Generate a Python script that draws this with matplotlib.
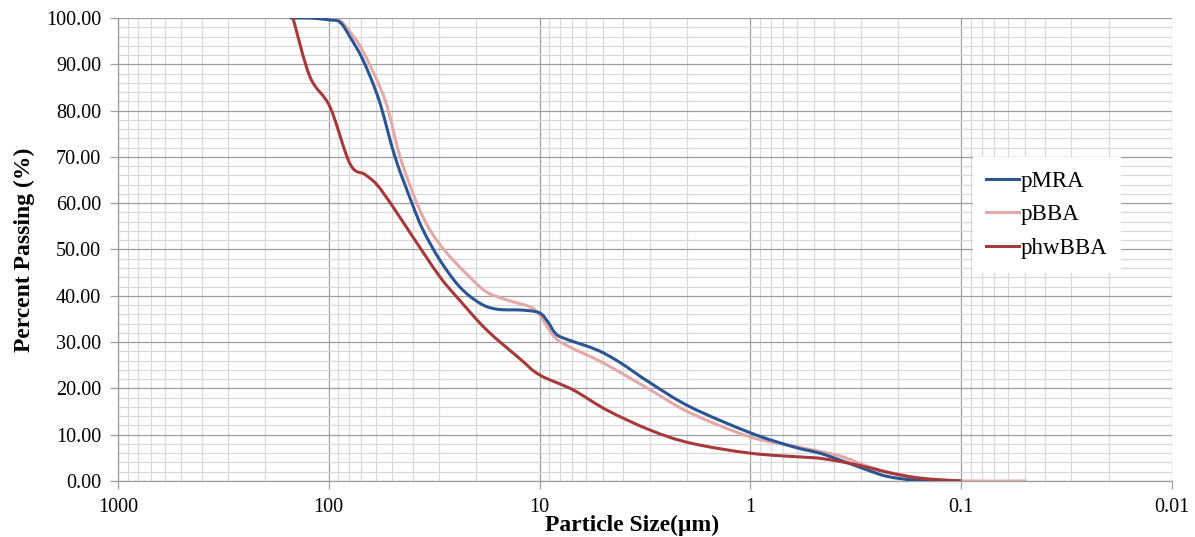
import numpy as np
import matplotlib
matplotlib.use("Agg")
import matplotlib.pyplot as plt
from matplotlib.path import Path
from matplotlib.patches import PathPatch
from matplotlib.lines import Line2D
from matplotlib.ticker import FixedLocator, LogLocator, MultipleLocator, FormatStrFormatter, NullFormatter

plt.rcParams['font.family'] = ['Liberation Serif', 'DejaVu Serif']

# particle size (um) / percent passing
pmra_x = [152.8, 122.8, 99.8, 88.5, 79.3, 68.8, 57.8, 48.5, 40.3, 35.7, 29.7, 23.9, 19.2,
          15.9, 12.0, 10.0, 9.12, 8.45, 7.74, 5.34, 4.16, 2.99, 1.93, 1.0, 0.628, 0.468,
          0.364, 0.280, 0.225, 0.169, 0.126, 0.1]
pmra_y = [100, 100, 99.6, 99.1, 95.9, 90.9, 82.3, 70.0, 60.0, 54.2, 47.7, 41.9, 38.4,
          37.1, 36.9, 36.3, 34.3, 32.0, 30.9, 28.3, 25.6, 21.2, 16.0, 10.4, 7.4, 6.0,
          4.3, 2.4, 1.0, 0.2, 0.02, 0.0]

pbba_x = [152.8, 122.8, 99.8, 88.5, 79.3, 68.8, 54.1, 45.9, 38.2, 33.1, 27.5, 21.4, 17.8,
          14.3, 11.1, 10.0, 8.93, 8.18, 7.02, 5.34, 4.16, 2.99, 1.93, 1.0, 0.601, 0.376,
          0.280, 0.195, 0.136, 0.1, 0.049]
pbba_y = [100, 100, 99.8, 99.4, 97.0, 92.8, 82.3, 70.0, 60.0, 54.2, 49.2, 44.0, 40.8,
          39.1, 37.6, 35.9, 32.4, 30.4, 28.7, 26.2, 23.5, 19.7, 14.7, 9.5, 7.4, 5.4,
          3.2, 1.3, 0.4, 0.0, 0.0]

phw_x = [147.8, 122.8, 98.7, 79.3, 67.3, 59.1, 50.1, 39.9, 29.7, 23.9, 17.8, 12.4, 10.0,
         6.95, 4.79, 2.99, 1.93, 1.0, 0.539, 0.468, 0.364, 0.280, 0.225, 0.157, 0.1]
phw_y = [100, 87.3, 80.8, 68.5, 66.2, 64.0, 59.5, 52.7, 44.1, 39.0, 32.6, 26.4, 22.9,
         19.7, 15.3, 11.0, 8.2, 6.0, 5.1, 4.9, 4.1, 3.0, 1.9, 0.6, 0.0]

series = [
    ('pMRA', pmra_x, pmra_y, '#2B5592', 4),
    ('pBBA', pbba_x, pbba_y, '#E3A9A8', 3),
    ('phwBBA', phw_x, phw_y, '#A63A3A', 5),
]


def smooth_path(xs, ys):
    # excel-like smoothed line: bezier through the points, control points
    # worked out in log-x space so they land right on the log axis
    lx = np.log10(np.asarray(xs, float))
    y = np.asarray(ys, float)
    n = len(lx)
    verts = [(xs[0], ys[0])]
    codes = [Path.MOVETO]
    for i in range(n - 1):
        i0 = max(i - 1, 0)
        i3 = min(i + 2, n - 1)
        c1 = (lx[i] + (lx[i + 1] - lx[i0]) / 6, y[i] + (y[i + 1] - y[i0]) / 6)
        c2 = (lx[i + 1] - (lx[i3] - lx[i]) / 6, y[i + 1] - (y[i3] - y[i]) / 6)
        verts += [(10 ** c1[0], c1[1]), (10 ** c2[0], c2[1]), (xs[i + 1], ys[i + 1])]
        codes += [Path.CURVE4] * 3
    return Path(verts, codes)


fig = plt.figure(figsize=(11.95, 5.37), dpi=100)
ax = fig.add_axes([0.0987, 0.1043, 0.8821, 0.8622])

ax.set_xscale('log')
ax.set_xlim(1000, 0.01)
ax.set_ylim(0, 100)

handles = []
for name, xs, ys, col, z in series:
    ax.add_patch(PathPatch(smooth_path(xs, ys), facecolor='none', edgecolor=col, lw=2.2,
                           zorder=z, joinstyle='round', capstyle='butt'))
    handles.append(Line2D([], [], color=col, lw=2.2, label=name))

ax.xaxis.set_major_locator(FixedLocator([1000, 100, 10, 1, 0.1, 0.01]))
ax.set_xticklabels(['1000', '100', '10', '1', '0.1', '0.01'])
ax.xaxis.set_minor_locator(LogLocator(base=10, subs=np.arange(2, 10)))
ax.xaxis.set_minor_formatter(NullFormatter())
ax.yaxis.set_major_locator(MultipleLocator(10))
ax.yaxis.set_minor_locator(MultipleLocator(2))
ax.yaxis.set_major_formatter(FormatStrFormatter('%.2f'))

ax.grid(which='major', color='#9E9E9E', lw=0.9, zorder=1)
ax.grid(which='minor', color='#D8D8D8', lw=0.9, zorder=0)
ax.set_axisbelow(True)

ax.tick_params(which='major', direction='out', length=6, width=0.9, color='#9E9E9E',
               labelsize=14.5, pad=6, top=False, right=False)
ax.tick_params(axis='x', pad=6)
ax.tick_params(which='minor', length=0)
for s in ['top', 'right']:
    ax.spines[s].set_visible(False)
for s in ['left', 'bottom']:
    ax.spines[s].set_color('#9E9E9E')
    ax.spines[s].set_linewidth(0.9)

ax.set_xlabel('Particle Size(\u03bcm)', fontsize=17, fontweight='bold', labelpad=-4)
ax.xaxis.set_label_coords(0.4877, -0.072)
ax.set_ylabel('Percent Passing (%)', fontsize=17, fontweight='bold', labelpad=8)

leg = ax.legend(handles=handles, loc='center left', bbox_to_anchor=(0.8, 0.575), frameon=True,
                fontsize=16.5, handlelength=1.4, handletextpad=0.1, labelspacing=0.55,
                borderpad=0.6)
leg.get_frame().set_facecolor('white')
leg.get_frame().set_edgecolor('none')
leg.get_frame().set_alpha(1)
leg.get_frame().set_boxstyle('square', pad=0)

fig.savefig('out.png', dpi=100)
